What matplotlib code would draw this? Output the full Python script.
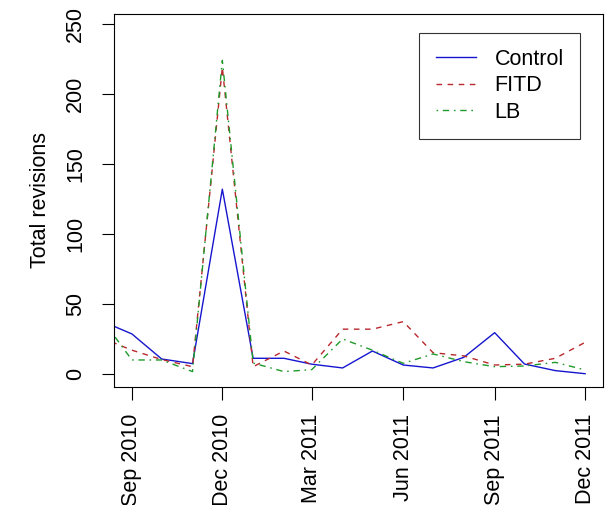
import datetime as dt

import matplotlib
matplotlib.use("Agg")
import matplotlib.pyplot as plt
import matplotlib.dates as mdates

plt.rcParams['font.family'] = ['Liberation Sans', 'DejaVu Sans']

# monthly totals, Aug 2010 .. Dec 2011 (Aug 2010 sits left of the visible range)
months = [dt.date(2010, 8, 1)] + [dt.date(2010 + (8 + i) // 12, (8 + i) % 12 + 1, 1)
                                  for i in range(16)]
control = [38, 28.6, 10.7, 7.4, 132, 11.2, 11.2, 7, 4.3, 16.4, 6.4, 4.3, 11.9, 29.5, 7.1, 2.4, 0.2]
fitd    = [26, 17, 10.3, 5.2, 219, 5.2, 16.4, 6.4, 32, 32, 37.4, 15.2, 12.9, 6.4, 7, 11.2, 22.6]
lb      = [40, 10, 10, 1.7, 224, 7.8, 1.7, 3.1, 25, 17, 7.6, 14.3, 8.8, 5.2, 5.7, 8.3, 2.9]

tick_dates = [dt.date(2010, 9, 1), dt.date(2010, 12, 1), dt.date(2011, 3, 1),
              dt.date(2011, 6, 1), dt.date(2011, 9, 1), dt.date(2011, 12, 1)]
tick_labels = ['Sep 2010', 'Dec 2010', 'Mar 2011', 'Jun 2011', 'Sep 2011', 'Dec 2011']
y_ticks = [0, 50, 100, 150, 200, 250]

FS = 15.5

fig = plt.figure(figsize=(6.05, 5.05), dpi=100)
ax = fig.add_axes([114 / 605, 1 - 387 / 505, 489 / 605, 373 / 505])

ax.plot(months, control, color='#1515d0', lw=1.0, label='Control')
ax.plot(months, fitd, color='#b8282d', lw=1.0, dashes=(4, 4), label='FITD')
ax.plot(months, lb, color='#1f9a2a', lw=1.0, dashes=(1.15, 3.4, 4.6, 3.4), label='LB')

# R-style 4% padding around Sep 2010 .. Dec 2011
pad = dt.timedelta(days=18.24)
ax.set_xlim(tick_dates[0] - pad, tick_dates[-1] + pad)
ax.set_ylim(-9.3, 257.1)

ax.set_xticks(tick_dates)
ax.set_xticklabels(tick_labels, rotation=90, fontsize=FS)
ax.set_yticks(y_ticks)
ax.set_yticklabels([str(v) for v in y_ticks], rotation=90, va='center', fontsize=FS)
ax.tick_params(axis='x', length=9.5, width=0.8, pad=10)
ax.tick_params(axis='y', length=9, width=0.8, pad=11)
for s in ax.spines.values():
    s.set_linewidth(0.8)

fig.text(40 / 605, 1 - 200 / 505, 'Total revisions', rotation=90,
         ha='center', va='center', fontsize=FS)

leg = ax.legend(loc='upper right', bbox_to_anchor=((580 - 114) / 489, (387 - 32.7) / 373),
                fontsize=FS, frameon=True, fancybox=False, handlelength=1.86,
                handletextpad=0.88, borderpad=0.75, labelspacing=0.25, borderaxespad=0)
leg.get_frame().set_edgecolor('black')
leg.get_frame().set_linewidth(0.8)

fig.savefig('out.png', dpi=100)
